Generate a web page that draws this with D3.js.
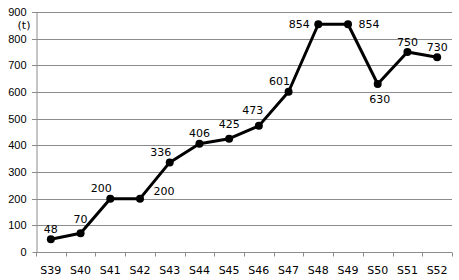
<!DOCTYPE html>
<html>
<head>
<meta charset="utf-8">
<script src="https://cdn.jsdelivr.net/npm/d3@7"></script>
<style>
  body { margin: 0; background: #fff; }
  svg { display: block; font-family: "DejaVu Sans", Verdana, sans-serif; }
  .grid line { stroke: #8c8c8c; stroke-width: 1; }
  .axis path, .axis line { stroke: #8c8c8c; }
  .axis text { fill: #000; font-size: 11px; }
  .lbl { font-size: 11px; fill: #000; }
</style>
</head>
<body>
<div id="chart"></div>
<script>
const years = ['S39', 'S40', 'S41', 'S42', 'S43', 'S44', 'S45', 'S46', 'S47', 'S48', 'S49', 'S50', 'S51', 'S52'];
const values = [48, 70, 200, 200, 336, 406, 425, 473, 601, 854, 854, 630, 750, 730];
const yTicks = [0, 100, 200, 300, 400, 500, 600, 700, 800, 900];
const unitLabel = '(t)';
// where each value label sits relative to its point
const labelPlace = ['above', 'high', 'aboveLeft', 'rightHigh', 'aboveLeft', 'above', 'high',
                    'highLeft', 'aboveLeft', 'left', 'right', 'below', 'above', 'above'];

const width = 459, height = 280;
const margin = { top: 12, right: 7, bottom: 28, left: 36 };

const svg = d3.select('#chart').append('svg')
    .attr('width', width)
    .attr('height', height);

const x = d3.scaleBand()
    .domain(years)
    .range([margin.left, width - margin.right]);

const y = d3.scaleLinear()
    .domain([0, 900])
    .range([height - margin.bottom, margin.top]);

// horizontal gridlines
svg.append('g')
    .attr('class', 'grid')
    .selectAll('line')
    .data(yTicks.slice(1))
    .join('line')
    .attr('x1', margin.left - 4)
    .attr('x2', width - margin.right)
    .attr('y1', d => Math.round(y(d)) + 0.5)
    .attr('y2', d => Math.round(y(d)) + 0.5);

// y axis
const yAxis = svg.append('g')
    .attr('class', 'axis')
    .attr('transform', `translate(${margin.left + 0.5},0.5)`)
    .call(d3.axisLeft(y).tickValues(yTicks).tickSize(4).tickSizeOuter(0));
yAxis.selectAll('text').attr('x', -10);
yAxis.selectAll('.tick').attr('transform', d => `translate(0,${Math.round(y(d))})`);

// x axis with ticks on category boundaries
const xAxis = svg.append('g')
    .attr('class', 'axis')
    .attr('transform', `translate(0,${Math.round(y(0)) + 0.5})`);
xAxis.append('line')
    .attr('x1', margin.left)
    .attr('x2', width - margin.right)
    .attr('stroke', '#8c8c8c');
const bounds = years.map(d => x(d)).concat([x(years[years.length - 1]) + x.bandwidth()]);
xAxis.selectAll('line.tk')
    .data(bounds)
    .join('line')
    .attr('class', 'tk')
    .attr('x1', d => Math.round(d) + 0.5)
    .attr('x2', d => Math.round(d) + 0.5)
    .attr('y1', 0)
    .attr('y2', 4)
    .attr('stroke', '#8c8c8c');
xAxis.selectAll('text')
    .data(years)
    .join('text')
    .attr('x', d => x(d) + x.bandwidth() / 2)
    .attr('y', 21)
    .attr('text-anchor', 'middle')
    .text(d => d);

// unit label
svg.append('text')
    .attr('class', 'lbl')
    .attr('x', 24)
    .attr('y', 29)
    .attr('text-anchor', 'middle')
    .text(unitLabel);

const pts = years.map((d, i) => ({ year: d, value: values[i], place: labelPlace[i] }));
const cx = d => x(d.year) + x.bandwidth() / 2;

svg.append('path')
    .datum(pts)
    .attr('fill', 'none')
    .attr('stroke', '#000')
    .attr('stroke-width', 3)
    .attr('stroke-linejoin', 'round')
    .attr('d', d3.line().x(cx).y(d => y(d.value)));

svg.append('g')
    .selectAll('circle')
    .data(pts)
    .join('circle')
    .attr('cx', cx)
    .attr('cy', d => y(d.value))
    .attr('r', 4)
    .attr('fill', '#000');

const off = {
    above: [0, -10],
    high: [0, -14],
    aboveLeft: [-9, -10],
    highLeft: [-6, -15],
    left: [-19, 0],
    right: [21, 0],
    rightHigh: [24, -7],
    below: [2, 15]
};

svg.append('g')
    .selectAll('text')
    .data(pts)
    .join('text')
    .attr('class', 'lbl')
    .attr('text-anchor', 'middle')
    .attr('dominant-baseline', 'central')
    .attr('x', d => cx(d) + off[d.place][0])
    .attr('y', d => y(d.value) + off[d.place][1])
    .text(d => d.value);
</script>
</body>
</html>
